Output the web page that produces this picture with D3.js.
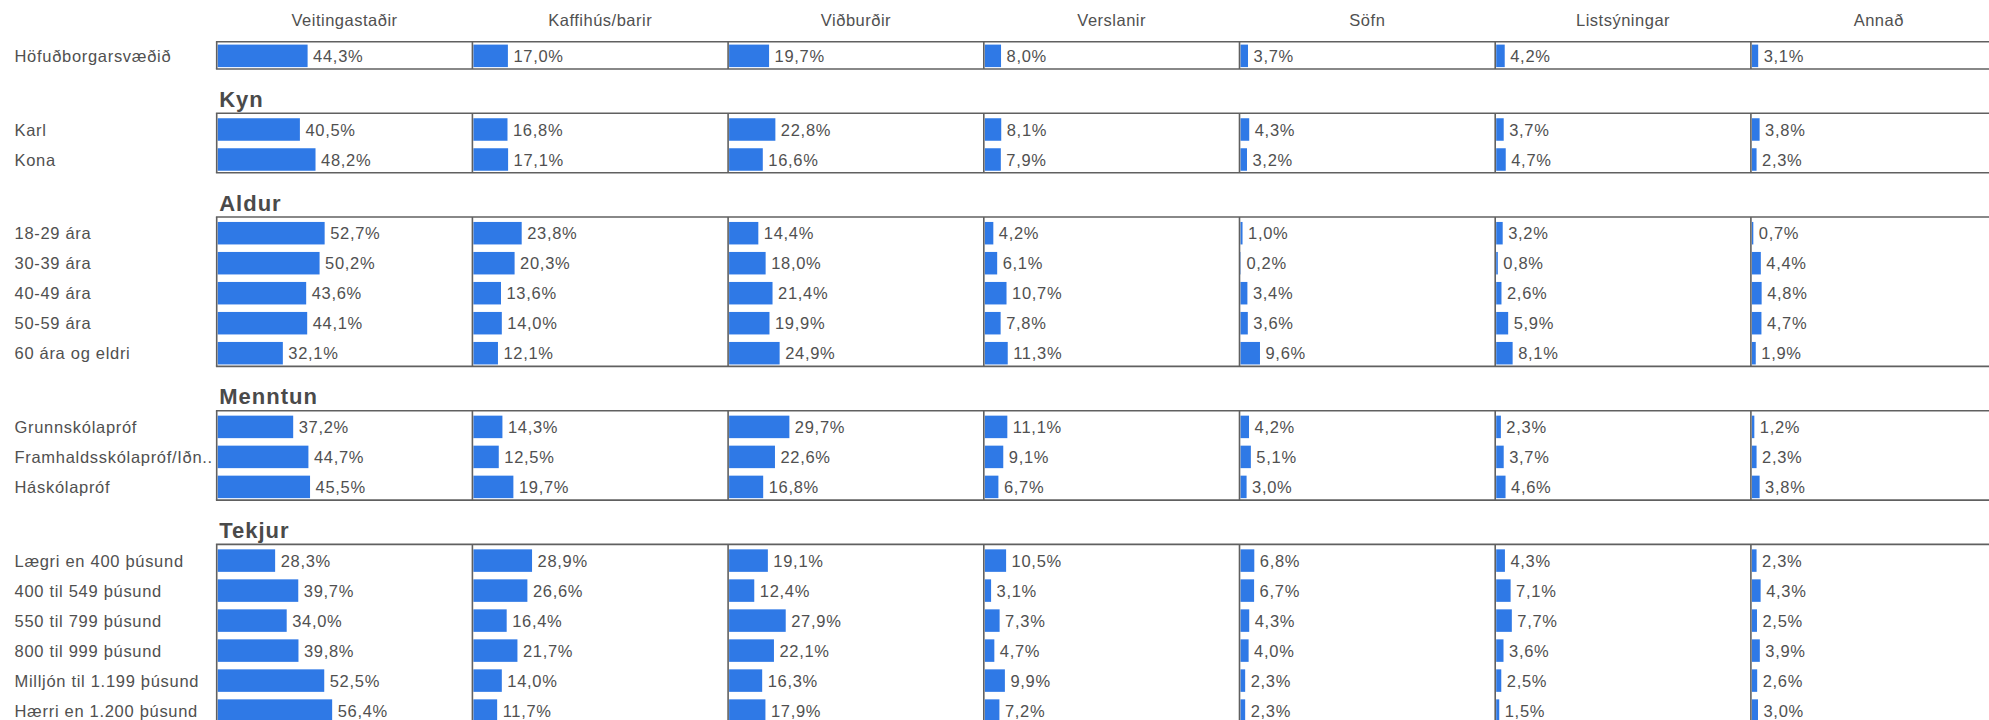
<!DOCTYPE html>
<html lang="is">
<head>
<meta charset="utf-8">
<script src="https://cdn.jsdelivr.net/npm/d3@7"></script>
<style>
  html, body { margin: 0; padding: 0; background: #fff; overflow: hidden; }
  svg { display: block; font-family: "Liberation Sans", Arial, sans-serif; }
</style>
</head>
<body>
<div id="chart"></div>
<script>
// Dálkar (flokkar)
const columns = ['Veitingastaðir', 'Kaffihús/barir', 'Viðburðir', 'Verslanir', 'Söfn', 'Listsýningar', 'Annað'];

// Hópar og raðir
const groupTitles = ['', 'Kyn', 'Aldur', 'Menntun', 'Tekjur'];
const rowLabels = [
    'Höfuðborgarsvæðið',
    'Karl', 'Kona',
    '18-29 ára', '30-39 ára', '40-49 ára', '50-59 ára', '60 ára og eldri',
    'Grunnskólapróf', 'Framhaldsskólapróf/Iðn..', 'Háskólapróf',
    'Lægri en 400 þúsund', '400 til 549 þúsund', '550 til 799 þúsund',
    '800 til 999 þúsund', 'Milljón til 1.199 þúsund', 'Hærri en 1.200 þúsund'
];
const rowGroups = [0, 1, 1, 2, 2, 2, 2, 2, 3, 3, 3, 4, 4, 4, 4, 4, 4];

// Hlutföll (%) í sömu röð og columns
const values = [
    [44.3, 17.0, 19.7, 8.0, 3.7, 4.2, 3.1],
    [40.5, 16.8, 22.8, 8.1, 4.3, 3.7, 3.8],
    [48.2, 17.1, 16.6, 7.9, 3.2, 4.7, 2.3],
    [52.7, 23.8, 14.4, 4.2, 1.0, 3.2, 0.7],
    [50.2, 20.3, 18.0, 6.1, 0.2, 0.8, 4.4],
    [43.6, 13.6, 21.4, 10.7, 3.4, 2.6, 4.8],
    [44.1, 14.0, 19.9, 7.8, 3.6, 5.9, 4.7],
    [32.1, 12.1, 24.9, 11.3, 9.6, 8.1, 1.9],
    [37.2, 14.3, 29.7, 11.1, 4.2, 2.3, 1.2],
    [44.7, 12.5, 22.6, 9.1, 5.1, 3.7, 2.3],
    [45.5, 19.7, 16.8, 6.7, 3.0, 4.6, 3.8],
    [28.3, 28.9, 19.1, 10.5, 6.8, 4.3, 2.3],
    [39.7, 26.6, 12.4, 3.1, 6.7, 7.1, 4.3],
    [34.0, 16.4, 27.9, 7.3, 4.3, 7.7, 2.5],
    [39.8, 21.7, 22.1, 4.7, 4.0, 3.6, 3.9],
    [52.5, 14.0, 16.3, 9.9, 2.3, 2.5, 2.6],
    [56.4, 11.7, 17.9, 7.2, 2.3, 1.5, 3.0]
];

const width = 1989;
const height = 720;
const panelLeft = 216.7;
const panelWidth = 255.7;
const rowStep = 30;
const blockGap = 44.3;
const lineColor = '#606060';
const barColor = '#2f79e6';
const textColor = '#505050';
const fmt = v => d3.format('.1f')(v).replace('.', ',') + '%';

const svg = d3.select('#chart')
    .append('svg')
    .attr('width', width)
    .attr('height', height);

// Dálkakvarði og gildakvarði (sami fyrir alla dálka)
const colScale = d3.scaleBand()
    .domain(columns)
    .range([panelLeft, panelLeft + panelWidth * columns.length]);

const x = d3.scaleLinear()
    .domain([0, 126])
    .range([0, panelWidth]);

// Dálkafyrirsagnir
svg.append('g')
    .selectAll('text')
    .data(columns)
    .enter()
    .append('text')
    .attr('x', d => colScale(d) + colScale.bandwidth() / 2)
    .attr('y', 26)
    .attr('text-anchor', 'middle')
    .style('font-size', '16.5px')
    .style('letter-spacing', '0.5px')
    .style('fill', textColor)
    .text(d => d);

// Raðir flokkaðar eftir hópum
const rows = rowLabels.map((label, i) => ({ label, group: rowGroups[i], values: values[i] }));
const groups = d3.groups(rows, d => d.group);

let blockTop = 41.7;
groups.forEach(([gi, gRows]) => {
    const n = gRows.length;
    const blockHeight = gi === 0 ? 27.3 : rowStep * n - 0.6;
    const offset = gi === 0 ? -0.85 : 1.2;

    const y = d3.scaleBand()
        .domain(gRows.map(d => d.label))
        .range([blockTop + offset, blockTop + offset + rowStep * n])
        .paddingInner(0.25)
        .paddingOuter(0.125);

    const g = svg.append('g').attr('class', 'block');

    // Hópheiti
    if (groupTitles[gi]) {
        g.append('text')
            .attr('x', panelLeft + 2.5)
            .attr('y', blockTop - 6.5)
            .style('font-size', '22px')
            .style('font-weight', '700')
            .style('letter-spacing', '1px')
            .style('fill', '#4a4a4a')
            .text(groupTitles[gi]);
    }

    // Raðaheiti
    g.selectAll('.row-label')
        .data(gRows)
        .enter()
        .append('text')
        .attr('class', 'row-label')
        .attr('x', 14.5)
        .attr('y', d => y(d.label) + y.bandwidth() / 2)
        .attr('dominant-baseline', 'central')
        .style('font-size', '16.5px')
        .style('letter-spacing', '0.7px')
        .style('fill', textColor)
        .text(d => d.label);

    // Súlur og gildi fyrir hvern dálk
    columns.forEach((col, ci) => {
        const x0 = colScale(col) + 1;

        g.selectAll(null)
            .data(gRows)
            .enter()
            .append('rect')
            .attr('x', x0)
            .attr('y', d => y(d.label))
            .attr('width', d => x(d.values[ci]))
            .attr('height', y.bandwidth())
            .attr('fill', barColor);

        g.selectAll(null)
            .data(gRows)
            .enter()
            .append('text')
            .attr('x', d => x0 + x(d.values[ci]) + 5.5)
            .attr('y', d => y(d.label) + y.bandwidth() / 2)
            .attr('dominant-baseline', 'central')
            .style('font-size', '16.5px')
            .style('letter-spacing', '0.7px')
            .style('fill', textColor)
            .text(d => fmt(d.values[ci]));
    });

    // Rammar: lóðréttar línur og efri/neðri lína
    g.selectAll('.vline')
        .data(columns)
        .enter()
        .append('line')
        .attr('class', 'vline')
        .attr('x1', d => colScale(d))
        .attr('x2', d => colScale(d))
        .attr('y1', blockTop)
        .attr('y2', blockTop + blockHeight)
        .attr('stroke', lineColor)
        .attr('stroke-width', 1.6);

    [blockTop, blockTop + blockHeight].forEach(yy => {
        g.append('line')
            .attr('x1', panelLeft - 0.8)
            .attr('x2', width)
            .attr('y1', yy)
            .attr('y2', yy)
            .attr('stroke', lineColor)
            .attr('stroke-width', 1.6);
    });

    blockTop += blockHeight + blockGap;
});
</script>
</body>
</html>
